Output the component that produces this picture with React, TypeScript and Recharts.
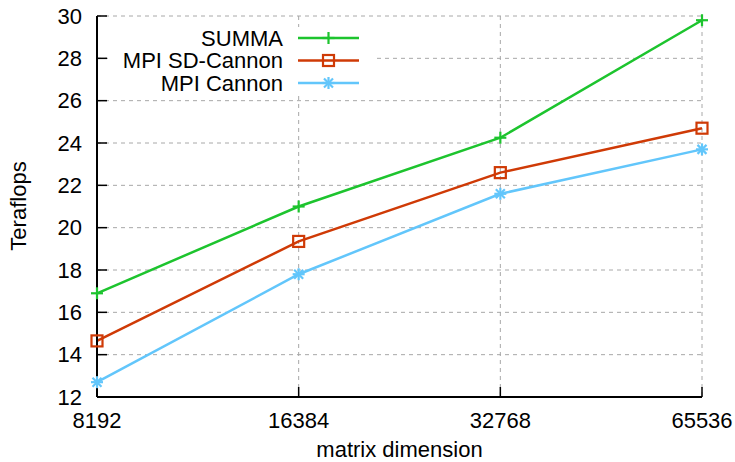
import { LineChart, Line, XAxis, YAxis, CartesianGrid, Legend, Label } from "recharts";

// matrix dimension (log2 spaced) vs. Teraflops
const dims = [8192, 16384, 32768, 65536];
const summa = [16.9, 21.0, 24.25, 29.8];
const sdCannon = [14.65, 19.35, 22.6, 24.7];
const cannon = [12.7, 17.8, 21.6, 23.7];
const yTicks = [12, 14, 16, 18, 20, 22, 24, 26, 28, 30];

const FONT = '"Liberation Sans", Arial, Helvetica, sans-serif';

type MarkKind = "plus" | "square" | "star";

const series: { key: string; name: string; color: string; mark: MarkKind }[] = [
  { key: "summa", name: "SUMMA", color: "#1dc42e", mark: "plus" },
  { key: "sd", name: "MPI SD-Cannon", color: "#cf3a06", mark: "square" },
  { key: "cannon", name: "MPI Cannon", color: "#62c6fb", mark: "star" },
];

const data = dims.map((n, i) => ({
  n,
  summa: summa[i],
  sd: sdCannon[i],
  cannon: cannon[i],
}));

function Marker({ kind, cx, cy, color }: { kind: MarkKind; cx: number; cy: number; color: string }) {
  if (cx == null || cy == null) return null;
  if (kind === "plus") {
    return (
      <g stroke={color} strokeWidth={2.2}>
        <line x1={cx - 6} y1={cy} x2={cx + 6} y2={cy} />
        <line x1={cx} y1={cy - 6} x2={cx} y2={cy + 6} />
      </g>
    );
  }
  if (kind === "square") {
    return <rect x={cx - 5.5} y={cy - 5.5} width={11} height={11} fill="none" stroke={color} strokeWidth={2.2} />;
  }
  return (
    <g stroke={color} strokeWidth={2.2}>
      <line x1={cx - 6} y1={cy} x2={cx + 6} y2={cy} />
      <line x1={cx} y1={cy - 6} x2={cx} y2={cy + 6} />
      <line x1={cx - 4.5} y1={cy - 4.5} x2={cx + 4.5} y2={cy + 4.5} />
      <line x1={cx - 4.5} y1={cy + 4.5} x2={cx + 4.5} y2={cy - 4.5} />
    </g>
  );
}

function KeyBox() {
  return (
    <svg width={735} height={100} style={{ display: "block" }}>
      <rect x={108} y={27} width={265} height={68} fill="#fff" />
      {series.map((s, i) => {
        const y = 38 + i * 22.5;
        return (
          <g key={s.key}>
            <text x={283} y={y} dy="0.355em" textAnchor="end" fontSize={22} fontFamily={FONT} fill="#000">
              {s.name}
            </text>
            <line x1={298} y1={y} x2={359} y2={y} stroke={s.color} strokeWidth={2.5} />
            <Marker kind={s.mark} cx={328.5} cy={y} color={s.color} />
          </g>
        );
      })}
    </svg>
  );
}

const tickStyle = { fill: "#000", fontSize: 22, fontFamily: FONT };

export default function App() {
  return (
    <div style={{ position: "absolute", left: 0, top: 0, background: "#fff" }}>
      <LineChart
        width={735}
        height={462}
        data={data}
        margin={{ top: 16, right: 33, bottom: 0, left: 0 }}
        style={{ fontFamily: FONT }}
      >
        <CartesianGrid stroke="#a8a8a8" strokeDasharray="4 4" />
        <XAxis
          dataKey="n"
          type="number"
          scale="log"
          domain={[8192, 65536]}
          ticks={dims}
          height={65}
          tickSize={-10}
          tickMargin={25}
          tick={tickStyle}
          axisLine={{ stroke: "#000", strokeWidth: 2 }}
          tickLine={{ stroke: "#000", strokeWidth: 1.5 }}
          interval={0}
        >
          <Label
            content={() => (
              <text x={399.5} y={457} textAnchor="middle" fontSize={22} fontFamily={FONT} fill="#000">
                matrix dimension
              </text>
            )}
          />
        </XAxis>
        <XAxis
          xAxisId="top"
          orientation="top"
          type="number"
          scale="log"
          domain={[8192, 65536]}
          ticks={dims}
          height={0}
          tickSize={-10}
          tickFormatter={() => ""}
          axisLine={{ stroke: "#000", strokeWidth: 2 }}
          tickLine={{ stroke: "#000", strokeWidth: 1.5 }}
          interval={0}
        />
        <YAxis
          type="number"
          domain={[12, 30]}
          ticks={yTicks}
          width={97}
          tickSize={-10}
          tickMargin={25}
          tick={tickStyle}
          axisLine={{ stroke: "#000", strokeWidth: 2 }}
          tickLine={{ stroke: "#000", strokeWidth: 1.5 }}
          interval={0}
        >
          <Label
            content={() => (
              <text
                x={26}
                y={206}
                textAnchor="middle"
                fontSize={22}
                fontFamily={FONT}
                fill="#000"
                transform="rotate(-90, 26, 206)"
              >
                Teraflops
              </text>
            )}
          />
        </YAxis>
        <YAxis
          yAxisId="right"
          orientation="right"
          type="number"
          domain={[12, 30]}
          ticks={yTicks}
          width={0}
          tickSize={-10}
          tickFormatter={() => ""}
          axisLine={{ stroke: "#000", strokeWidth: 2 }}
          tickLine={{ stroke: "#000", strokeWidth: 1.5 }}
          interval={0}
        />
        <Legend
          layout="vertical"
          align="center"
          verticalAlign="middle"
          wrapperStyle={{ left: 0, top: 0, width: 735, height: 100 }}
          content={() => <KeyBox />}
        />
        {series.map((s) => (
          <Line
            key={s.key}
            dataKey={s.key}
            name={s.name}
            type="linear"
            stroke={s.color}
            strokeWidth={2.5}
            isAnimationActive={false}
            dot={(p: any) => <Marker key={`${s.key}-${p.index}`} kind={s.mark} cx={p.cx} cy={p.cy} color={s.color} />}
            activeDot={false}
          />
        ))}
      </LineChart>
    </div>
  );
}
